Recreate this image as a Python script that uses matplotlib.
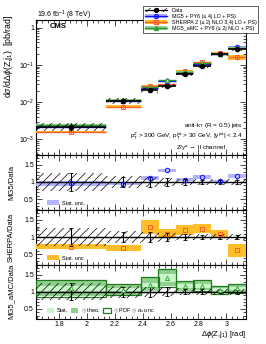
import numpy as np
import matplotlib
matplotlib.use('Agg')
import matplotlib.pyplot as plt
from matplotlib.patches import Patch
from matplotlib.lines import Line2D
from matplotlib.ticker import MultipleLocator, LogLocator, NullFormatter, FuncFormatter, FixedLocator

plt.rcParams['font.family'] = ['Liberation Sans', 'DejaVu Sans']
plt.rcParams['mathtext.fontset'] = 'custom'
plt.rcParams['mathtext.rm'] = 'Liberation Sans'
plt.rcParams['mathtext.it'] = 'Liberation Sans:italic'
plt.rcParams['mathtext.bf'] = 'Liberation Sans:bold'
plt.rcParams['mathtext.sf'] = 'Liberation Sans'
plt.rcParams['hatch.linewidth'] = 0.5

# ---------------- data ----------------
bin_edges_k = [13, 17, 19, 20, 21, 22, 23, 24, 25]          # bin edges in units of pi/25
data_xs = [2.2e-3, 1.1e-2, 2.1e-2, 2.7e-2, 5.6e-2, 9.4e-2, 1.9e-1, 2.6e-1]
data_stat_rel = [0.25, 0.15, 0.14, 0.13, 0.08, 0.07, 0.05, 0.06]
data_tot_rel = [0.25, 0.18, 0.15, 0.13, 0.10, 0.10, 0.09, 0.09]

mg5_ratio = [0.96, 0.95, 1.12, 1.34, 1.07, 1.15, 1.04, 1.17]
mg5_stat = [0.08, 0.04, 0.06, 0.05, 0.04, 0.05, 0.03, 0.05]

sherpa_ratio = [0.72, 0.69, 1.29, 1.10, 1.21, 1.24, 1.09, 0.61]
sherpa_stat = [0.08, 0.09, 0.21, 0.12, 0.14, 0.13, 0.12, 0.18]

amc_ratio = [1.10, 1.06, 1.21, 1.41, 1.16, 1.18, 1.06, 1.10]
amc_stat = [0.07, 0.04, 0.06, 0.12, 0.06, 0.06, 0.04, 0.05]
amc_theo = [0.23, 0.15, 0.19, 0.24, 0.15, 0.14, 0.10, 0.11]
amc_tot = [0.25, 0.17, 0.21, 0.26, 0.17, 0.16, 0.12, 0.13]

xticks = [1.8, 2.0, 2.2, 2.4, 2.6, 2.8, 3.0]
xticklabels = ['1.8', '2', '2.2', '2.4', '2.6', '2.8', '3']
yticks_main = [1e-3, 1e-2, 1e-1, 1.0]
legend_labels = ['Data', 'MG5 + PY6 (\u2264 4j LO + PS)', 'SHERPA 2 (\u2264 2j NLO 3,4j LO + PS)',
                 'MG5_aMC + PY8 (\u2264 2j NLO + PS)']

# ---------------- derived ----------------
edges = np.array(bin_edges_k) * np.pi / 25
lo, hi = edges[:-1], edges[1:]
ctr, wid = (lo + hi) / 2, hi - lo
d = np.array(data_xs)
dst, dtot = np.array(data_stat_rel), np.array(data_tot_rel)

C_MG5, C_MG5B = '#1010ff', '#b4b4ff'
C_SH, C_SHB = '#ff5a2a', '#ffbe28'
C_AMC, C_AMCS, C_AMCT, C_AMCO = '#2f9a2f', '#c8f5c8', '#8fd08f', '#1f7a1f'

W, H = 266, 344
fig = plt.figure(figsize=(W / 100, H / 100), dpi=100)

def fx(px):
    return px / W

def fy(py):
    return 1 - py / H

L, R = 36, 246
def axes_px(top, bot):
    return fig.add_axes([fx(L), fy(bot), fx(R - L), (bot - top) / H])

ax0 = axes_px(20, 154.5)
ax1 = axes_px(154.5, 209.5)
ax2 = axes_px(209.5, 264.5)
ax3 = axes_px(264.5, 319)
axes = [ax0, ax1, ax2, ax3]

FS = 5.0

for a in axes:
    a.set_xlim(edges[0], edges[-1])
    a.tick_params(which='both', direction='in', top=True, right=True, labelsize=FS, pad=1.5, width=0.5)
    a.tick_params(which='major', length=4.5)
    a.tick_params(which='minor', length=2.2)
    a.xaxis.set_major_locator(MultipleLocator(0.2))
    a.xaxis.set_minor_locator(MultipleLocator(0.04))
    for s in a.spines.values():
        s.set_linewidth(0.8)
    if a is not ax3:
        a.tick_params(labelbottom=False)

# ---------------- main panel ----------------
ax0.set_yscale('log')
ax0.set_ylim(3.9e-4, 1.6)
ax0.yaxis.set_major_locator(FixedLocator(yticks_main))
ax0.yaxis.set_minor_locator(LogLocator(base=10, subs=np.arange(2, 10), numticks=10))
ax0.yaxis.set_minor_formatter(NullFormatter())
ax0.yaxis.set_major_formatter(FuncFormatter(
    lambda v, p: '1' if abs(v - 1) < 1e-9 else r'$10^{%d}$' % int(round(np.log10(v)))))

def pred_main(ratio, stat, col, band, marker, z):
    r = np.array(ratio); s = np.array(stat)
    val = d * r
    ax0.bar(lo, val * s / r, width=wid, bottom=val * (1 - 0.5 * s / r), align='edge',
            color=band, linewidth=0, zorder=z)
    ax0.hlines(val, lo, hi, color=col, lw=1.0, zorder=z + 0.1)
    ax0.errorbar(ctr, val, yerr=val * s / r * 0.5, fmt='none', ecolor=col, elinewidth=0.7, zorder=z + 0.2)
    ax0.plot(ctr, val, linestyle='none', marker=marker, ms=3.2, mfc='none' if marker != '^' else C_AMCS,
             mec=col, mew=0.7, zorder=z + 0.3)

pred_main(mg5_ratio, mg5_stat, C_MG5, C_MG5B, 'o', 3)
pred_main(sherpa_ratio, sherpa_stat, C_SH, C_SHB, 's', 3.5)
pred_main(amc_ratio, amc_stat, C_AMC, C_AMCT, '^', 4)

ax0.bar(lo, d * 2 * dtot, width=wid, bottom=d * (1 - dtot), align='edge', facecolor='none',
        edgecolor='k', hatch='////', linewidth=0, zorder=5)
ax0.hlines(d, lo, hi, color='k', lw=1.2, zorder=6)
ax0.errorbar(ctr, d, yerr=d * dst, fmt='o', color='k', ms=3.0, elinewidth=0.8, zorder=7)

ax0.set_ylabel(r'd$\sigma$/d$\Delta\phi$(Z,j$_{1}$)  [pb/rad]', fontsize=6.3, ha='right')

fig.text(fx(37), fy(15), r'19.6 fb$^{-1}$ (8 TeV)', fontsize=FS, ha='left', va='center')
fig.text(fx(50), fy(26.5), 'CMS', fontsize=5.5, fontweight='bold', ha='left', va='center')
fig.text(fx(243), fy(125), r'anti-k$_{\mathrm{T}}$ (R = 0.5) jets', fontsize=4.6, ha='right', va='center')
fig.text(fx(243), fy(136.5), r'p$_{\mathrm{T}}^{\mathrm{Z}}$ > 300 GeV, p$_{\mathrm{T}}^{\mathrm{jet}}$ > 30 GeV, |y$^{\mathrm{jet}}$| < 2.4',
         fontsize=4.6, ha='right', va='center')
fig.text(fx(226), fy(147.5), r'Z/$\gamma$*$\rightarrow$ ll channel', fontsize=4.6, ha='right', va='center')

h_data = (Patch(facecolor='none', edgecolor='k', hatch='////', linewidth=0),
          Line2D([], [], color='k', marker='o', ms=2.8, lw=0.9))
h_mg5 = (Patch(facecolor=C_MG5B, linewidth=0), Line2D([], [], color=C_MG5, marker='o', mfc='none', ms=2.8, lw=1.0))
h_sh = (Patch(facecolor=C_SHB, linewidth=0), Line2D([], [], color=C_SH, marker='s', mfc='none', ms=2.8, lw=1.0))
h_amc = (Patch(facecolor=C_AMCT, linewidth=0), Line2D([], [], color=C_AMC, marker='^', ms=2.8, lw=1.0))
leg = ax0.legend([h_data, h_mg5, h_sh, h_amc], legend_labels,
                 loc='upper left', bbox_to_anchor=(fx(143), fy(6)), bbox_transform=fig.transFigure,
                 fontsize=3.9, frameon=True, fancybox=False, edgecolor='#444444', framealpha=1,
                 borderpad=0.3, labelspacing=0.2, handlelength=4.2, handleheight=0.8, handletextpad=0.8,
                 borderaxespad=0)
leg.get_frame().set_linewidth(0.6)
leg.set_zorder(20)

# ---------------- ratio panels ----------------
def ratio_common(a, label):
    a.set_ylim(0.2, 1.8)
    a.yaxis.set_major_locator(MultipleLocator(0.5))
    a.yaxis.set_minor_locator(MultipleLocator(0.1))
    a.yaxis.set_major_formatter(FuncFormatter(lambda v, p: ('%g' % v)))
    a.bar(lo, 2 * dtot, width=wid, bottom=1 - dtot, align='edge', facecolor='none',
          edgecolor='k', hatch='////', linewidth=0, zorder=5)
    a.axhline(1.0, color='k', lw=1.0, zorder=6)
    a.errorbar(ctr, np.ones_like(ctr), yerr=dst, fmt='none', ecolor='k', elinewidth=0.8,
               capsize=1.3, capthick=0.6, zorder=7)
    a.set_ylabel(label, fontsize=5.5)

ratio_common(ax1, 'MG5/Data')
r = np.array(mg5_ratio); s = np.array(mg5_stat)
ax1.bar(lo, 2 * s, width=wid, bottom=r - s, align='edge', color=C_MG5B, linewidth=0, zorder=3)
ax1.plot(ctr, r, linestyle='none', marker='o', ms=3.2, mfc='none', mec=C_MG5, mew=0.7, zorder=8)
ax1.legend([Patch(facecolor=C_MG5B, linewidth=0)], ['Stat. unc.'], loc='lower left', fontsize=4.0,
           frameon=False, handlelength=2.2, handleheight=1.0, handletextpad=0.5,
           bbox_to_anchor=(0.035, 0.0), borderaxespad=0.3)

ratio_common(ax2, 'SHERPA/Data')
r = np.array(sherpa_ratio); s = np.array(sherpa_stat)
ax2.bar(lo, 2 * s, width=wid, bottom=r - s, align='edge', color=C_SHB, linewidth=0, zorder=3)
ax2.plot(ctr, r, linestyle='none', marker='s', ms=3.0, mfc='none', mec=C_SH, mew=0.7, zorder=8)
ax2.legend([Patch(facecolor=C_SHB, linewidth=0)], ['Stat. unc.'], loc='lower left', fontsize=4.0,
           frameon=False, handlelength=2.2, handleheight=1.0, handletextpad=0.5,
           bbox_to_anchor=(0.035, 0.0), borderaxespad=0.3)

ratio_common(ax3, 'MG5_aMC/Data')
r = np.array(amc_ratio)
st, th, tt = np.array(amc_stat), np.array(amc_theo), np.array(amc_tot)
ax3.bar(lo, 2 * tt, width=wid, bottom=r - tt, align='edge', facecolor='none', edgecolor=C_AMCO,
        linewidth=0.9, zorder=4)
ax3.bar(lo, 2 * th, width=wid, bottom=r - th, align='edge', color=C_AMCT, linewidth=0, zorder=2)
ax3.bar(lo, 2 * st, width=wid, bottom=r - st, align='edge', color=C_AMCS, linewidth=0, zorder=2.5)
ax3.plot(ctr, r, linestyle='none', marker='^', ms=3.0, mfc=C_AMCS, mec=C_AMC, mew=0.6, zorder=8)
ax3.legend([Patch(facecolor=C_AMCS, linewidth=0), Patch(facecolor=C_AMCT, linewidth=0),
            Patch(facecolor='white', edgecolor=C_AMCO, linewidth=0.9)],
           ['Stat.', r'$\oplus$ theo.', r'$\oplus$ PDF $\oplus$ $\alpha_{\mathrm{s}}$ unc.'],
           loc='lower left', fontsize=4.0, frameon=False, ncol=3, columnspacing=0.6,
           handlelength=1.3, handleheight=1.0, handletextpad=0.4,
           bbox_to_anchor=(0.035, 0.0), borderaxespad=0.3)

ax3.set_xticks(xticks)
ax3.set_xticklabels(xticklabels)
ax3.set_xlabel(r'$\Delta\phi$(Z,j$_{1}$) [rad]', fontsize=5.5, loc='right', labelpad=1)

# place y labels (ROOT style)
ax0.yaxis.set_label_coords(-0.1, 1.04)
for a in (ax1, ax2, ax3):
    a.yaxis.set_label_coords(-0.1, 0.5)

fig.savefig('out.png', dpi=100)
